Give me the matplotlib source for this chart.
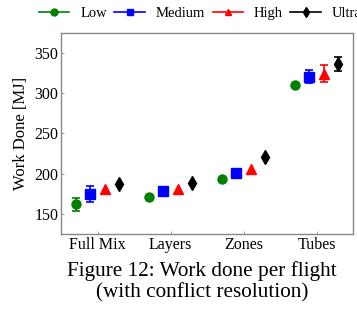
import matplotlib
matplotlib.use("Agg")
import matplotlib.pyplot as plt
import numpy as np

plt.rcParams['font.family'] = ['Liberation Serif', 'DejaVu Serif']

categories = ["Full Mix", "Layers", "Zones", "Tubes"]
series = ["Low", "Medium", "High", "Ultra"]
colors = ["green", "blue", "red", "black"]
markers = ["o", "s", "^", "d"]

low_vals = [162, 170.5, 193.5, 310.5]
low_err = [8, 0, 0, 0]
medium_vals = [175, 178, 200.5, 320.5]
medium_err = [10, 0, 0, 8]
high_vals = [181, 181.5, 206, 324.5]
high_err = [0, 0, 0, 10]
ultra_vals = [187.5, 188, 221, 336]
ultra_err = [0, 0, 0, 8.5]

values = [low_vals, medium_vals, high_vals, ultra_vals]
errors = [low_err, medium_err, high_err, ultra_err]
offsets = [-0.3, -0.1, 0.1, 0.3]

fig = plt.figure(figsize=(3.57, 3.10), dpi=100)
ax = fig.add_axes([0.171, 0.245, 0.818, 0.649])

x = np.arange(len(categories))
handles = []
for name, vals, errs, c, m, off in zip(series, values, errors, colors, markers, offsets):
    vals = np.array(vals, dtype=float)
    errs = np.array(errs, dtype=float)
    mask = errs > 0
    if mask.any():
        ax.errorbar((x + off)[mask], vals[mask], yerr=errs[mask], fmt="none",
                    ecolor=c, capsize=3, elinewidth=1.2, capthick=1.2)
    ax.plot(x + off, vals, linestyle="none", marker=m, color=c,
            markersize=6.5 if m != "d" else 7.5)
    h, = ax.plot([], [], color=c, marker=m, markersize=5, linewidth=1.2, label=name)
    handles.append(h)

ax.set_xlim(-0.5, 3.5)
ax.set_ylim(125, 375)
ax.set_xticks(x)
ax.set_xticklabels(categories)
ax.set_yticks([150, 200, 250, 300, 350])
ax.set_ylabel("Work Done [MJ]", fontsize=12)
ax.tick_params(direction="in", length=2, width=0.6, color="#888888", labelsize=11.5, pad=2)
for s in ax.spines.values():
    s.set_color("#888888")
    s.set_linewidth(1.0)

fig.legend(handles=handles, loc="center left", bbox_to_anchor=(0.092, 0.958), ncol=4,
           frameon=False, fontsize=10.5, handlelength=2.1, columnspacing=0.5,
           handletextpad=0.75, borderaxespad=0)

fig.text(0.565, 0.127, "Figure 12: Work done per flight", ha="center", va="center", fontsize=15.3)
fig.text(0.565, 0.055, "(with conflict resolution)", ha="center", va="center", fontsize=15.3)

fig.savefig("out.png", dpi=100)
